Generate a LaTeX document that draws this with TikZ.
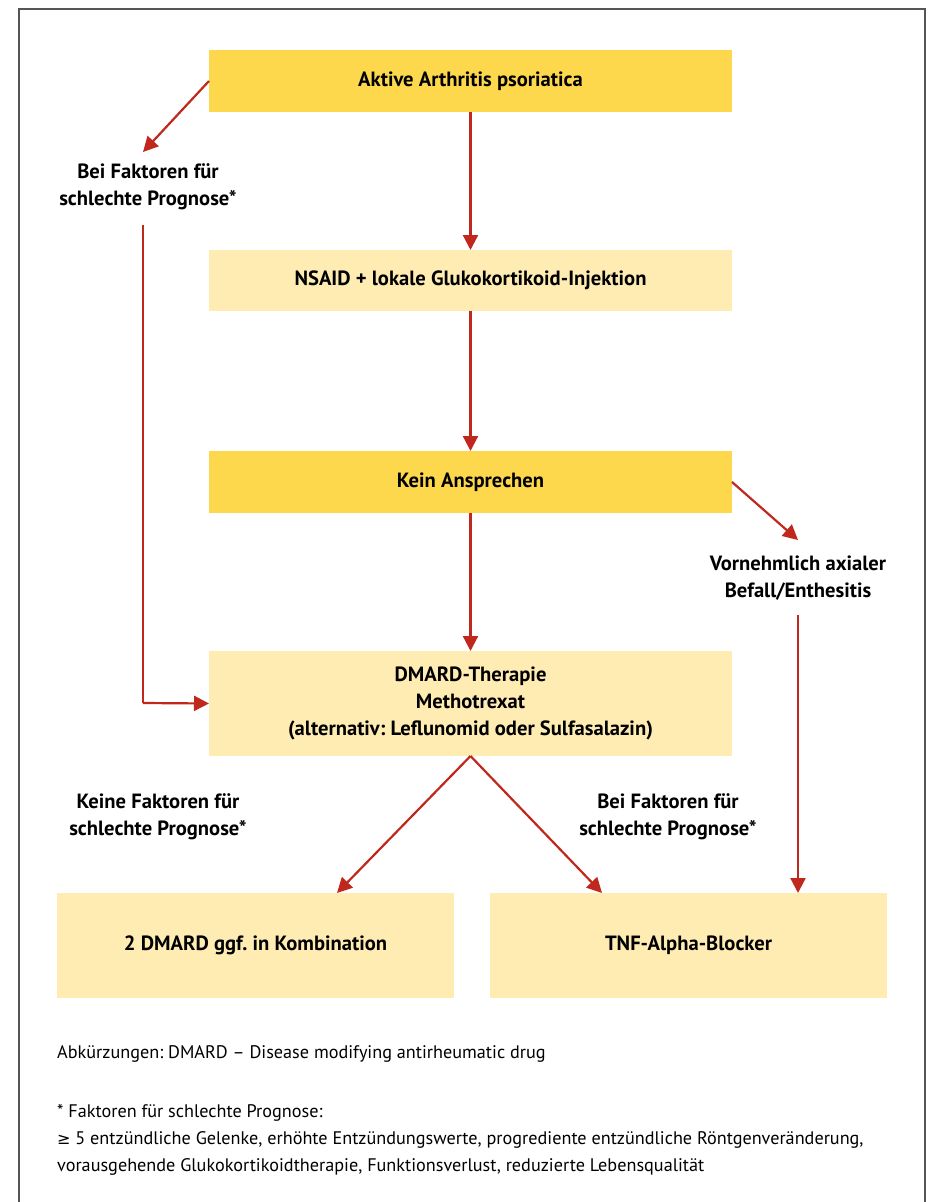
\documentclass[tikz,border=0pt]{standalone}
\usepackage{fontspec}
\setmainfont{PT Sans}
\newfontfamily\symfont{DejaVu Sans}
\usetikzlibrary{arrows.meta}
\frenchspacing
\definecolor{darky}{HTML}{FDD84C}
\definecolor{lighty}{HTML}{FEECB2}
\definecolor{arr}{HTML}{C0281E}
\definecolor{frm}{HTML}{555555}
\tikzset{
  box/.style={inner sep=0pt, outer sep=0pt, align=center, font=\fontsize{20.6}{27}\selectfont\bfseries},
  dbox/.style={box, fill=darky},
  lbox/.style={box, fill=lighty},
  lbl/.style={align=center, font=\fontsize{20.6}{27}\selectfont\bfseries, inner sep=0pt},
  flow/.style={draw=arr, line width=2.2pt, -{Triangle[length=15pt,width=15pt]}},
  note/.style={anchor=west, inner sep=0pt, font=\fontsize{18.2}{27}\selectfont, align=left}
}
\begin{document}
\begin{tikzpicture}[x=1pt,y=-1pt]
\useasboundingbox (0,0) rectangle (935,1202);
\draw[frm, line width=1.5pt] (19,1210) -- (19,9) -- (925,9) -- (925,1210);
% boxes
\node[dbox, minimum width=523pt, minimum height=62pt] (a) at (470.5,81) {Aktive Arthritis psoriatica};
\node[lbox, minimum width=523pt, minimum height=61pt] (n) at (470.5,280.5) {NSAID + lokale Glukokortikoid-Injektion};
\node[dbox, minimum width=523pt, minimum height=62pt] (k) at (470.5,482) {Kein Ansprechen};
\node[lbox, minimum width=523pt, minimum height=105pt] (d) at (470.5,703.5) {DMARD-Therapie\\Methotrexat\\(alternativ: Leflunomid oder Sulfasalazin)};
\node[lbox, minimum width=397pt, minimum height=105pt] (z) at (255.5,945.5) {2 DMARD ggf. in Kombination};
\node[lbox, minimum width=397pt, minimum height=105pt] (t) at (688.5,945.5) {TNF-Alpha-Blocker};
% labels
\node[lbl] (l1) at (148,187) {Bei Faktoren für\\schlechte Prognose*};
\node[lbl] (l2) at (798,578) {Vornehmlich axialer\\Befall/Enthesitis};
\node[lbl] (l3) at (158,817) {Keine Faktoren für\\schlechte Prognose*};
\node[lbl] (l4) at (668,817) {Bei Faktoren für\\schlechte Prognose*};
% coordinates
\coordinate (l1tip) at (143,152);
\coordinate (l1start) at (143,225);
\coordinate (l1corner) at (143,703);
\coordinate (l2tip) at (798,540);
\coordinate (l2start) at (798,615);
% arrows
\draw[flow] (a.west) -- (l1tip);
\draw[flow, -] (l1start) -- (l1corner);
\draw[flow] (l1corner) -- (d.west);
\draw[flow] (a.south) -- (n.north);
\draw[flow] (n.south) -- (k.north);
\draw[flow] (k.south) -- (d.north);
\draw[flow] (k.east) -- (l2tip);
\draw[flow] (l2start) -- (l2start |- t.north);
\draw[flow] (d.south) -- (337,893);
\draw[flow] (d.south) -- (602,893);
% notes
\node[note] (f1) at (57,1054) {Abkürzungen: DMARD – Disease modifying antirheumatic drug};
\node[note] (f2) at (57,1113) {* Faktoren für schlechte Prognose:};
\node[note] (f3) at (57,1140) {{\symfont\fontsize{16}{27}\selectfont ≥} 5 entzündliche Gelenke, erhöhte Entzündungswerte, progrediente entzündliche Röntgenveränderung,};
\node[note] (f4) at (57,1167) {vorausgehende Glukokortikoidtherapie, Funktionsverlust, reduzierte Lebensqualität};
\end{tikzpicture}
\end{document}
